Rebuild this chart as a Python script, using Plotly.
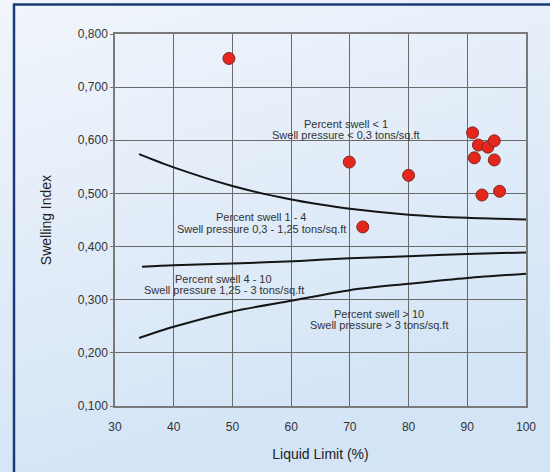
import base64
import plotly.graph_objects as go

# ---------------- data ----------------
ll_points = [49.4, 69.9, 80.0, 90.9, 91.9, 93.5, 94.6, 91.2, 94.6, 92.5, 95.5, 72.2]
si_points = [0.754, 0.559, 0.534, 0.614, 0.591, 0.587, 0.599, 0.567, 0.563, 0.497, 0.504, 0.437]

upper_x = [34.1, 40, 50, 59.8, 65, 70, 80, 90, 100]
upper_y = [0.574, 0.549, 0.514, 0.489, 0.479, 0.471, 0.460, 0.454, 0.451]

middle_x = [34.6, 40, 50, 61.5, 70, 80, 90, 100]
middle_y = [0.362, 0.365, 0.368, 0.373, 0.378, 0.382, 0.386, 0.389]

lower_x = [34.1, 40, 50, 60, 70, 80, 90, 100]
lower_y = [0.228, 0.249, 0.278, 0.298, 0.318, 0.330, 0.341, 0.349]

zone_labels = [
    ("Percent swell < 1", 69.4, 0.630),
    ("Swell pressure < 0,3 tons/sq.ft", 69.4, 0.610),
    ("Percent swell 1 - 4", 54.9, 0.456),
    ("Swell pressure 0,3 - 1,25 tons/sq.ft", 54.9, 0.434),
    ("Percent swell 4 - 10", 48.5, 0.339),
    ("Swell pressure 1,25 - 3 tons/sq.ft", 48.5, 0.318),
    ("Percent swell > 10", 74.9, 0.274),
    ("Swell pressure > 3 tons/sq.ft", 74.9, 0.253),
]

x_ticks = [30, 40, 50, 60, 70, 80, 90, 100]
y_ticks = [0.1, 0.2, 0.3, 0.4, 0.5, 0.6, 0.7, 0.8]

# ---------------- figure ----------------
W, H = 550, 472
ML, MR, MT, MB = 115, 24, 34, 66
PW, PH = W - ML - MR, H - MT - MB

FONT = "Arial, Liberation Sans, sans-serif"

fig = go.Figure()

for xs, ys in [(upper_x, upper_y), (middle_x, middle_y), (lower_x, lower_y)]:
    fig.add_trace(go.Scatter(x=xs, y=ys, mode="lines",
                             line=dict(color="#151515", width=2, shape="spline",
                                       smoothing=0.8),
                             hoverinfo="skip", showlegend=False))

fig.add_trace(go.Scatter(x=ll_points, y=si_points, mode="markers",
                         marker=dict(size=12, color="#e5261d",
                                     line=dict(color="#7d2b22", width=1)),
                         showlegend=False))

for txt, x, y in zone_labels:
    fig.add_annotation(x=x, y=y, text=txt, showarrow=False,
                       font=dict(family=FONT, size=11, color="#333333"),
                       xanchor="center", yanchor="middle")

# background gradient (svg data uri)
svg = (
    f'<svg xmlns="http://www.w3.org/2000/svg" width="{W}" height="{H}">'
    '<defs><linearGradient id="g" x1="0" y1="0" x2="0.35" y2="1">'
    '<stop offset="0" stop-color="#f1f5fb"/>'
    '<stop offset="1" stop-color="#d3e4f6"/>'
    '</linearGradient></defs>'
    f'<rect width="{W}" height="{H}" fill="url(#g)"/></svg>'
)
uri = "data:image/svg+xml;base64," + base64.b64encode(svg.encode()).decode()
fig.add_layout_image(dict(source=uri, xref="paper", yref="paper",
                          x=-ML / PW, y=1 + MT / PH,
                          sizex=W / PW, sizey=H / PH,
                          xanchor="left", yanchor="top",
                          sizing="stretch", layer="below", opacity=1))

# navy frame
fig.add_shape(type="rect", xref="paper", yref="paper",
              x0=(14 - ML) / PW, x1=1.6, y0=-0.6, y1=1 + (MT - 4.5) / PH,
              line=dict(color="#1b3a78", width=2.5), fillcolor="rgba(0,0,0,0)",
              layer="above")

axis_common = dict(showgrid=True, gridcolor="#6a6a6a", gridwidth=1.3,
                   showline=True, linecolor="#7a7a7a", linewidth=1.5, mirror=True,
                   zeroline=False,
                   tickfont=dict(family=FONT, size=12, color="#333333"))

fig.update_xaxes(range=[30, 100], tickvals=x_ticks,
                 ticks="outside", ticklen=9, tickcolor="rgba(0,0,0,0)",
                 title=dict(text="Liquid Limit (%)", standoff=16,
                            font=dict(family=FONT, size=14, color="#222222")),
                 **axis_common)
fig.update_yaxes(range=[0.1, 0.8], tickvals=y_ticks, tickformat=".3f",
                 ticks="outside", ticklen=3, tickcolor="#7a7a7a",
                 title=dict(text="Swelling Index", standoff=23,
                            font=dict(family=FONT, size=14, color="#222222")),
                 **axis_common)

fig.update_layout(width=W, height=H,
                  margin=dict(l=ML, r=MR, t=MT, b=MB, autoexpand=False),
                  paper_bgcolor="#dde9f6", plot_bgcolor="rgba(0,0,0,0)",
                  separators=",.", showlegend=False,
                  font=dict(family=FONT))

fig.write_html("out.html",
               config={"displayModeBar": False},
               post_script="document.body.style.margin='0';document.body.style.overflow='hidden';")
